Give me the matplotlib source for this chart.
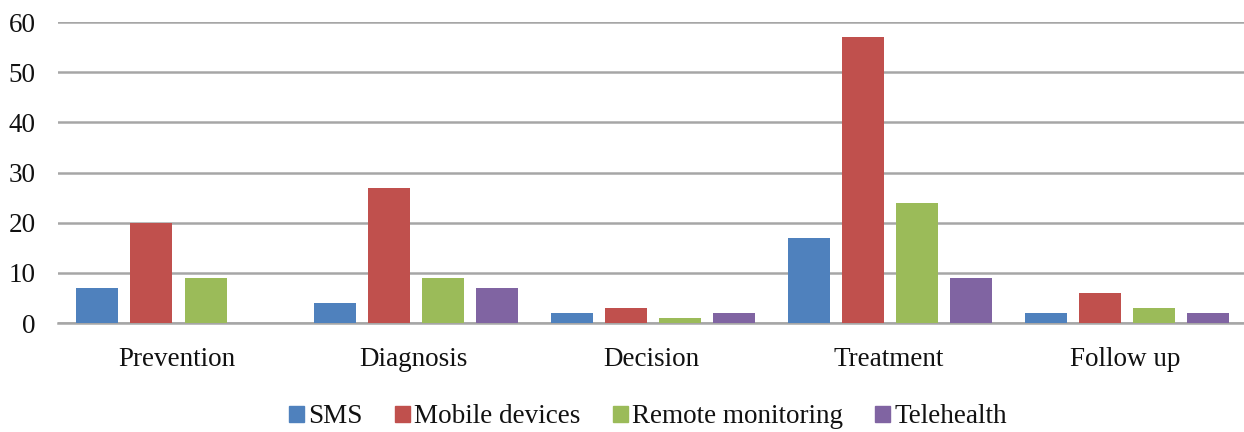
import numpy as np
import matplotlib.pyplot as plt
from matplotlib.patches import Patch

categories = ['Prevention', 'Diagnosis', 'Decision', 'Treatment', 'Follow up']
series = ['SMS', 'Mobile devices', 'Remote monitoring', 'Telehealth']
sms = [7, 4, 2, 17, 2]
mobile = [20, 27, 3, 57, 6]
remote = [9, 9, 1, 24, 3]
telehealth = [0, 7, 2, 9, 2]
colors = ['#4F81BD', '#C0504D', '#9BBB59', '#8064A2']

plt.rcParams['font.family'] = ['Liberation Serif', 'DejaVu Serif']
fs = 19.5

fig = plt.figure(figsize=(12.44, 4.32), dpi=100)
ax = fig.add_axes([0.0466, 0.2523, 0.9534, 0.6967])

x = np.arange(len(categories))
width = 0.177
step = 0.228
for i, (vals, c) in enumerate(zip([sms, mobile, remote, telehealth], colors)):
    ax.bar(x + (i - 1.5) * step + 0.008, vals, width, color=c, zorder=3, label=series[i])

ax.set_xlim(-0.5, len(categories) - 0.5)
ax.set_ylim(0, 60)
ax.set_yticks(range(0, 61, 10))
ax.yaxis.grid(True, color='#A6A6A6', linewidth=1.8, zorder=0)
for s in ['top', 'right', 'left']:
    ax.spines[s].set_visible(False)
ax.spines['bottom'].set_color('#A6A6A6')
ax.spines['bottom'].set_linewidth(1.8)
ax.set_xticks(x)
ax.set_xticklabels(categories)
ax.tick_params(axis='both', length=0, labelsize=fs, labelcolor='#111111')
ax.tick_params(axis='x', pad=17)
ax.tick_params(axis='y', pad=16)

handles = [Patch(color=c) for c in colors]
fig.legend(handles, series, loc='center', bbox_to_anchor=(0.521, 0.035), ncol=4,
           frameon=False, fontsize=fs, handlelength=0.55, handleheight=0.55,
           handletextpad=0.15, columnspacing=1.2, labelcolor='#111111')

fig.savefig('out.png', dpi=100)
